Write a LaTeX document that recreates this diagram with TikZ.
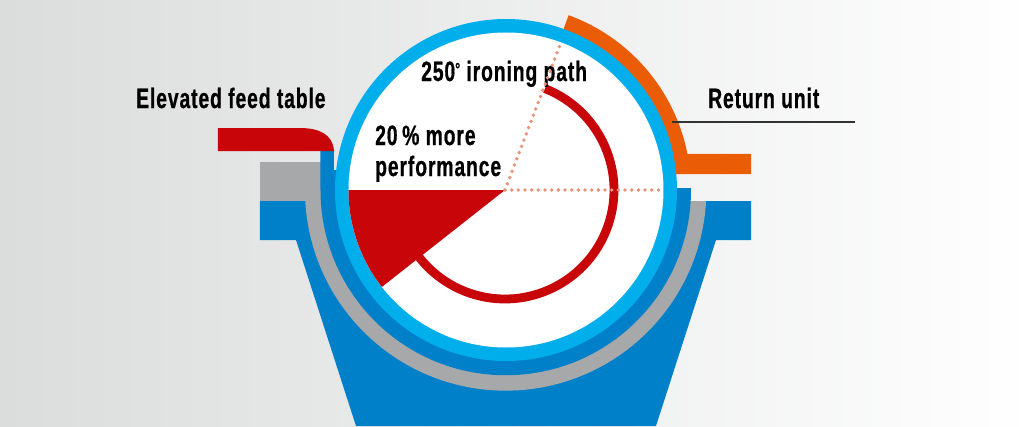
\documentclass[tikz,border=0pt]{standalone}
\usepackage{fontspec}
\newfontfamily\lab[FakeStretch=0.69,LetterSpace=3.2,FakeBold=0.6]{Liberation Sans Bold}
\definecolor{cblue}{HTML}{0080C8}
\definecolor{clight}{HTML}{00AEEC}
\definecolor{cgray}{HTML}{A7A8AA}
\definecolor{cred}{HTML}{C8060A}
\definecolor{corange}{HTML}{EB5C06}
\definecolor{cdot}{HTML}{E9927A}
\definecolor{cbgl}{HTML}{DBDCDC}
\tikzset{
  labeltext/.style={inner sep=0pt,anchor=base west,font=\lab\fontsize{28}{30}\selectfont,text=black},
  dots/.style={draw=cdot,line width=3.8pt,line cap=round,dash pattern=on 0pt off 6.67pt},
  leader/.style={draw=black!80,line width=1.1pt},
}
\begin{document}
\begin{tikzpicture}[x=1pt,y=1pt]
\useasboundingbox (-505,-236) rectangle (529,190);
\shade[left color=cbgl,right color=white] (-505,-236) rectangle (529,190);
% base
\fill[cblue] (-245,-11) -- (246,-11) -- (246,-50) -- (211,-50) -- (151,-236) -- (-149,-236) -- (-209,-50) -- (-245,-50) -- cycle;
% grey
\fill[cgray] (-245,28) -- (-180,28) -- (-180,-11) -- (-245,-11) -- cycle;
\fill[cgray] (-199.7,-11) arc[start angle=183.15,end angle=356.85,radius=200.7] -- cycle;
% dark ring
\fill[cblue] (-184.5,39) -- (-184.5,0) arc[start angle=180,end angle=360,radius=185.25] -- (186,2) -- (165,2) -- (0,0) -- (-160,20) -- (-171,20) -- (-171,39) -- cycle;
% orange
\fill[corange] (70:186) arc[start angle=70,end angle=11.2,radius=186] -- (246,36) -- (246,16) -- (165,16) -- (70:165) -- cycle;
% feed table
\fill[cred] (-287,62) -- (-205,62) .. controls (-185,62) and (-172,55) .. (-171,39) -- (-287,39) -- cycle;
% drum
\fill[clight] (1,0) circle[radius=171];
\fill[white] (1,0) circle[radius=157.5];
\fill[cred] (0,0) -- (-156.5,0) arc[start angle=180,end angle=218,radius=157.5] -- cycle;
\draw[cred,line width=8.8pt] (68.5:109) arc[start angle=68.5,end angle=-142,radius=109];
% labels
\node[labeltext] (feed) at (-369,82) {Elevated feed table};
\node[labeltext] (ret) at (203,82) {Return unit};
\node[labeltext] (path) at (-84,109) {250\raisebox{0.2em}{\fontsize{18}{18}\selectfont °} ironing path};
\node[labeltext] (more) at (-130,45) {20\,\% more};
\node[labeltext] (perf) at (-130,14) {performance};
% leader
\coordinate (leadA) at (167,68);
\coordinate (leadB) at (350,68);
\draw[leader] (leadA) -- (leadB);
% dotted
\coordinate (hub) at (0,0);
\coordinate (dotH) at (158,0);
\coordinate (dotV) at (55,145);
\draw[dots] (hub) -- (dotH);
\draw[dots] (hub) -- (dotV);
\end{tikzpicture}
\end{document}
